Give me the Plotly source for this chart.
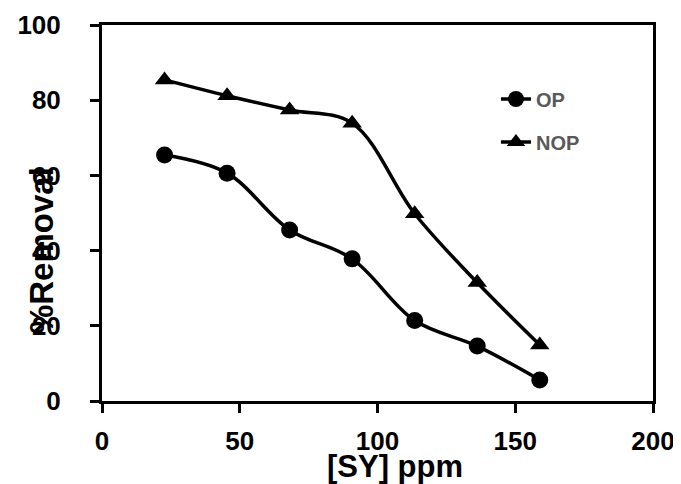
import plotly.graph_objects as go

sy_ppm = [22.7, 45.4, 68.1, 90.8, 113.5, 136.2, 158.9]
op_removal = [65.4, 60.6, 45.5, 37.8, 21.4, 14.6, 5.6]
nop_removal = [85.4, 81.2, 77.4, 73.9, 49.8, 31.5, 14.9]

x_ticks = [0, 50, 100, 150, 200]
y_ticks = [0, 20, 40, 60, 80, 100]

FONT = "Liberation Sans, Arial, sans-serif"

fig = go.Figure()
fig.add_trace(go.Scatter(
    x=sy_ppm, y=op_removal, name="OP", legendgroup="a",
    mode="lines+markers", line=dict(color="black", width=3.5, shape="spline", smoothing=1.0),
    marker=dict(symbol="circle", size=17, color="black"),
))
fig.add_trace(go.Scatter(
    x=sy_ppm, y=nop_removal, name="NOP", legendgroup="b",
    mode="lines+markers", line=dict(color="black", width=3.5, shape="spline", smoothing=1.0),
    marker=dict(symbol="triangle-up", size=17, color="black"),
))

axis_common = dict(
    showgrid=False, zeroline=False, showline=True, linecolor="black", linewidth=3,
    mirror=True, ticks="outside", ticklen=9, tickwidth=2.5, tickcolor="black",
    automargin=False,
    tickfont=dict(family=FONT, size=26, color="black", weight="bold"),
)
fig.update_xaxes(range=[0, 200], tickvals=x_ticks, ticklabelstandoff=6, **axis_common)
fig.update_yaxes(range=[0, 100], tickvals=y_ticks, ticklabelstandoff=24, **axis_common)

fig.add_annotation(text="%Removal", xref="paper", yref="paper", x=-0.147, y=0.40,
                   textangle=-90, showarrow=False,
                   font=dict(family=FONT, size=33, color="black", weight="bold"))
fig.add_annotation(text="[SY] ppm", xref="paper", yref="paper", x=0.532, y=-0.173,
                   showarrow=False, yanchor="middle",
                   font=dict(family=FONT, size=31, color="black", weight="bold"))

fig.update_layout(
    width=673, height=476,
    margin=dict(l=94, r=28, t=17, b=83),
    paper_bgcolor="white", plot_bgcolor="white",
    showlegend=True,
    legend=dict(x=0.715, y=0.855, xanchor="left", yanchor="top", bgcolor="rgba(0,0,0,0)",
                font=dict(family=FONT, size=20, color="#595959", weight="bold"),
                tracegroupgap=14, itemwidth=30),
)

fig.write_html("out.html")
